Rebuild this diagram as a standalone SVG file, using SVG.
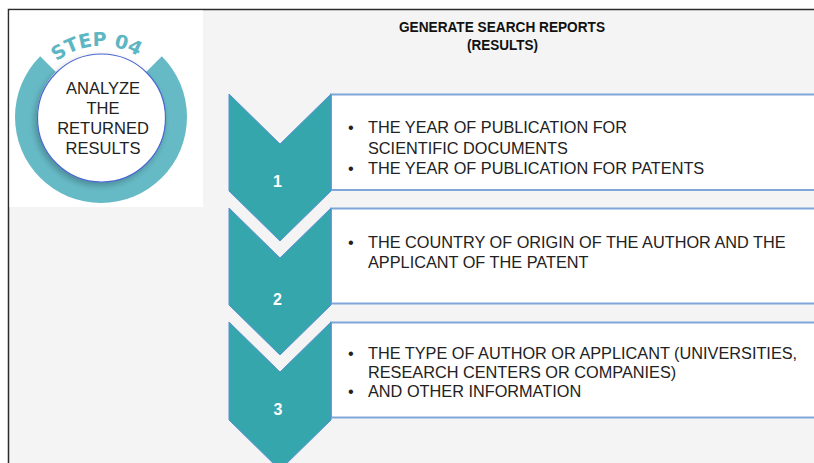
<svg xmlns="http://www.w3.org/2000/svg" width="814" height="463" viewBox="0 0 814 463">
  <defs>
    <style>
      .chev { fill: #36a6ad; stroke: #5b8fd6; stroke-width: 1; }
      .box { fill: #ffffff; stroke: #7ea6d8; stroke-width: 2; }
      .num { font-family: "Liberation Sans", Arial, sans-serif; font-size: 16px; font-weight: bold; fill: #ffffff; text-anchor: middle; }
      .item { font-family: "Liberation Sans", Arial, sans-serif; font-size: 16.3px; fill: #222222; }
      .head { font-family: "Liberation Sans", Arial, sans-serif; font-size: 14.5px; font-weight: bold; fill: #111111; text-anchor: middle; }
      .inner { font-family: "Liberation Sans", Arial, sans-serif; font-size: 16.5px; fill: #222222; text-anchor: middle; }
      .step { font-family: "DejaVu Sans", "Open Sans", sans-serif; font-size: 19px; font-weight: bold; fill: #5db6c3; }
    </style>
    <path id="stepArc" d="M39.5,81.5 A71,71 0 0 1 162.5,81.5"/>
    <filter id="soft" x="-20%" y="-20%" width="140%" height="140%">
      <feDropShadow dx="-2" dy="3" stdDeviation="3" flood-color="#000000" flood-opacity="0.25"/>
    </filter>
  </defs>

  <!-- page background and frame -->
  <rect x="0" y="0" width="814" height="463" fill="#ffffff"/>
  <rect x="9" y="10" width="805" height="453" fill="#f4f4f4"/>
  <path d="M8.5,463 V9.5 H814" fill="none" stroke="#2b2b2b" stroke-width="1.5"/>

  <!-- step badge -->
  <g id="step-badge">
    <rect x="9.5" y="10.5" width="193.5" height="196.5" fill="#ffffff"/>
    <path d="M40.2,56.2 A86,86 0 1 0 161.8,56.2 L146.3,71.7 A64,64 0 1 1 55.7,71.7 Z" fill="#66bac6"/>
    <circle cx="101.5" cy="118" r="64" fill="#ffffff" stroke="#4a67cf" stroke-width="1.2" filter="url(#soft)"/>
    <text class="step"><textPath href="#stepArc" startOffset="47%" text-anchor="middle">STEP 04</textPath></text>
    <text class="inner" x="103" y="94">ANALYZE</text>
    <text class="inner" x="103" y="114">THE</text>
    <text class="inner" x="103" y="134">RETURNED</text>
    <text class="inner" x="103" y="153.5">RESULTS</text>
  </g>

  <!-- heading -->
  <g id="heading">
    <text class="head" x="502" y="32" textLength="206" lengthAdjust="spacingAndGlyphs">GENERATE SEARCH REPORTS</text>
    <text class="head" x="502.5" y="49.5" textLength="71" lengthAdjust="spacingAndGlyphs">(RESULTS)</text>
  </g>

  <!-- step 1 -->
  <g id="step-1">
    <rect class="box" x="331" y="94.5" width="500" height="95.5"/>
    <path class="chev" d="M229,94 L280,144 L331,94 L331,191 L280,241 L229,191 Z"/>
    <text class="num" x="277.5" y="187">1</text>
    <text class="item" x="348" y="133">•</text>
    <text class="item" x="368" y="133">THE YEAR OF PUBLICATION FOR</text>
    <text class="item" x="368" y="153.5">SCIENTIFIC DOCUMENTS</text>
    <text class="item" x="348" y="173.5">•</text>
    <text class="item" x="368" y="173.5">THE YEAR OF PUBLICATION FOR PATENTS</text>
  </g>

  <!-- step 2 -->
  <g id="step-2">
    <rect class="box" x="331" y="208.5" width="500" height="95"/>
    <path class="chev" d="M229,208 L280,258 L331,208 L331,305 L280,355 L229,305 Z"/>
    <text class="num" x="277.5" y="305">2</text>
    <text class="item" x="348" y="248">•</text>
    <text class="item" x="368" y="248">THE COUNTRY OF ORIGIN OF THE AUTHOR AND THE</text>
    <text class="item" x="368" y="267.5">APPLICANT OF THE PATENT</text>
  </g>

  <!-- step 3 -->
  <g id="step-3">
    <rect class="box" x="331" y="322.5" width="500" height="95"/>
    <path class="chev" d="M229,322 L280,372 L331,322 L331,420 L280,470 L229,420 Z"/>
    <text class="num" x="278" y="415">3</text>
    <text class="item" x="348" y="359">•</text>
    <text class="item" x="368" y="359">THE TYPE OF AUTHOR OR APPLICANT (UNIVERSITIES,</text>
    <text class="item" x="368" y="378">RESEARCH CENTERS OR COMPANIES)</text>
    <text class="item" x="348" y="397">•</text>
    <text class="item" x="368" y="397">AND OTHER INFORMATION</text>
  </g>

  <!-- connectors: none drawn between steps; the chevrons carry the flow -->
  <g id="connectors"/>
</svg>
